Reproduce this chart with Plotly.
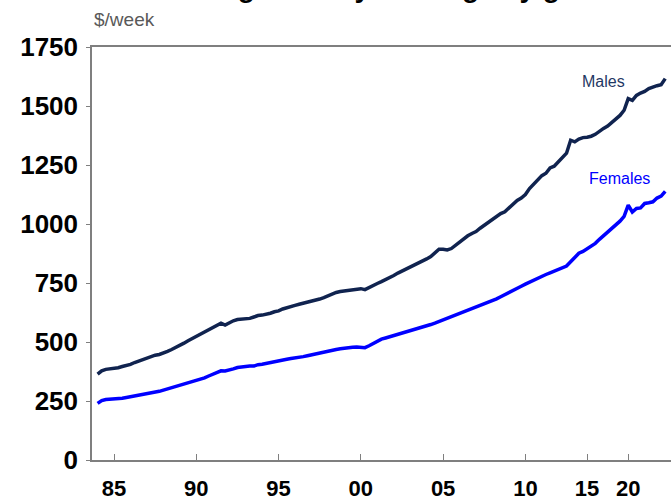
import plotly.graph_objects as go

# ---- categories: quarterly Feb-1984..May-2012, then half-yearly Nov-2012..Nov-2024
quarter_months = ["Feb", "May", "Aug", "Nov"]
periods = []
for yr in range(1984, 2013):
    for m in quarter_months:
        periods.append(f"{m}-{yr}")
        if yr == 2012 and m == "May":
            break
for yr in range(2012, 2025):
    for m in ["May", "Nov"]:
        if yr == 2012 and m == "May":
            continue
        periods.append(f"{m}-{yr}")

males = [
    364, 378, 384, 386,   388, 391, 396, 400,   405, 413, 420, 426,
    433, 440, 444, 447,   452, 460, 468, 476,   485, 495, 505, 514,
    524, 533, 542, 550,   558, 567, 580, 572,   582, 590, 595, 597,
    598, 600, 606, 612,   614, 617, 622, 628,   632, 640, 646, 650,
    655, 660, 664, 668,   672, 677, 682, 688,   695, 705, 710, 714,
    716, 718, 720, 724,   726, 722, 732, 740,   748, 756, 764, 772,
    782, 792, 800, 808,   816, 826, 834, 842,   852, 862, 878, 893,
    893, 890, 896, 910,   925, 940, 950, 960,   968, 982, 994, 1008,
    1022, 1034, 1044, 1052, 1068, 1085, 1100, 1110, 1125, 1150, 1170, 1190,
    1205, 1215, 1238, 1245, 1262, 1284,
    1300, 1355, 1348, 1360, 1366, 1368, 1372, 1380, 1394, 1405, 1415, 1430,
    1445, 1460, 1482, 1531, 1524, 1545, 1555, 1562, 1574, 1582, 1586, 1590, 1616,
]

females = [
    240, 252, 256, 257,   258, 260, 262, 265,   268, 271, 274, 277,
    280, 284, 288, 291,   296, 301, 306, 312,   318, 322, 326, 332,
    337, 343, 348, 356,   363, 372, 378, 377,   380, 386, 392, 395,
    397, 398, 398, 404,   406, 410, 413, 418,   421, 424, 427, 430,
    432, 435, 438, 442,   446, 451, 455, 458,   461, 465, 468, 471,
    474, 476, 478, 479,   479, 476, 484, 494,   504, 512, 517, 522,
    528, 534, 538, 542,   546, 551, 556, 562,   568, 574, 580, 587,
    593, 600, 606, 612,   618, 625, 632, 640,   647, 655, 662, 668,
    675, 683, 692, 700,   708, 718, 727, 736,   745, 754, 762, 770,
    778, 786, 793, 800,   806, 812,
    822, 840, 858, 876, 884, 895, 906, 918, 935, 950, 965, 980,
    996, 1012, 1032, 1080, 1051, 1066, 1068, 1087, 1090, 1094, 1110, 1118, 1138,
]

tick_periods = ["Feb-1985", "Feb-1990", "Feb-1995", "Feb-2000", "Feb-2005",
                "Feb-2010", "May-2015", "May-2020"]
tick_labels = ["85", "90", "95", "00", "05", "10", "15", "20"]
y_ticks = [0, 250, 500, 750, 1000, 1250, 1500, 1750]

FONT = "Arial, Liberation Sans, sans-serif"
MALE_C = "#10234f"
FEMALE_C = "#0000ff"

fig = go.Figure()
fig.add_trace(go.Scatter(x=periods, y=males, mode="lines", name="Males",
                         line=dict(color=MALE_C, width=3.5)))
fig.add_trace(go.Scatter(x=periods, y=females, mode="lines", name="Females",
                         line=dict(color=FEMALE_C, width=3.5)))

fig.update_layout(
    width=671, height=497,
    margin=dict(l=92, r=0, t=47, b=37),
    paper_bgcolor="white", plot_bgcolor="white",
    showlegend=False,
    font=dict(family=FONT, color="black"),
)
fig.update_xaxes(
    type="category", range=[-1.36, 139.4], automargin=False,
    tickmode="array", tickvals=tick_periods, ticktext=tick_labels,
    ticks="inside", ticklen=6, tickwidth=1, tickcolor="#7f7f7f",
    showline=True, linecolor="#7f7f7f", linewidth=1.5, mirror=True,
    showgrid=False, zeroline=False,
    tickfont=dict(size=22, family=FONT, color="black", weight="bold"),
    ticklabelstandoff=8,
)
fig.update_yaxes(
    range=[0, 1750], tickmode="array", tickvals=y_ticks, automargin=False,
    ticks="outside", ticklen=4, tickwidth=1, tickcolor="#7f7f7f",
    showline=True, linecolor="#7f7f7f", linewidth=1.5,
    showgrid=False, zeroline=False,
    tickfont=dict(size=26, family=FONT, color="black", weight="bold"),
    ticklabelstandoff=3,
)

fig.add_annotation(text="<b>Average weekly earnings by gender</b>", xref="paper", yref="paper",
                   x=0.53, y=1.1025, xanchor="center", yanchor="bottom", showarrow=False,
                   font=dict(size=28, family=FONT, color="black"))
fig.add_annotation(text="$/week", xref="paper", yref="paper",
                   x=0.0, y=1.067, xanchor="left", yanchor="middle", showarrow=False,
                   font=dict(size=19, family=FONT, color="#595959"))
fig.add_annotation(text="Males", xref="paper", yref="paper",
                   x=0.8826, y=0.917, xanchor="center", yanchor="middle", showarrow=False,
                   font=dict(size=16, family=FONT, color="#1f3864"))
fig.add_annotation(text="Females", xref="paper", yref="paper",
                   x=0.9111, y=0.682, xanchor="center", yanchor="middle", showarrow=False,
                   font=dict(size=16, family=FONT, color=FEMALE_C))

fig.write_html("out.html", config={"displayModeBar": False},
               post_script="document.body.style.margin='0';")
